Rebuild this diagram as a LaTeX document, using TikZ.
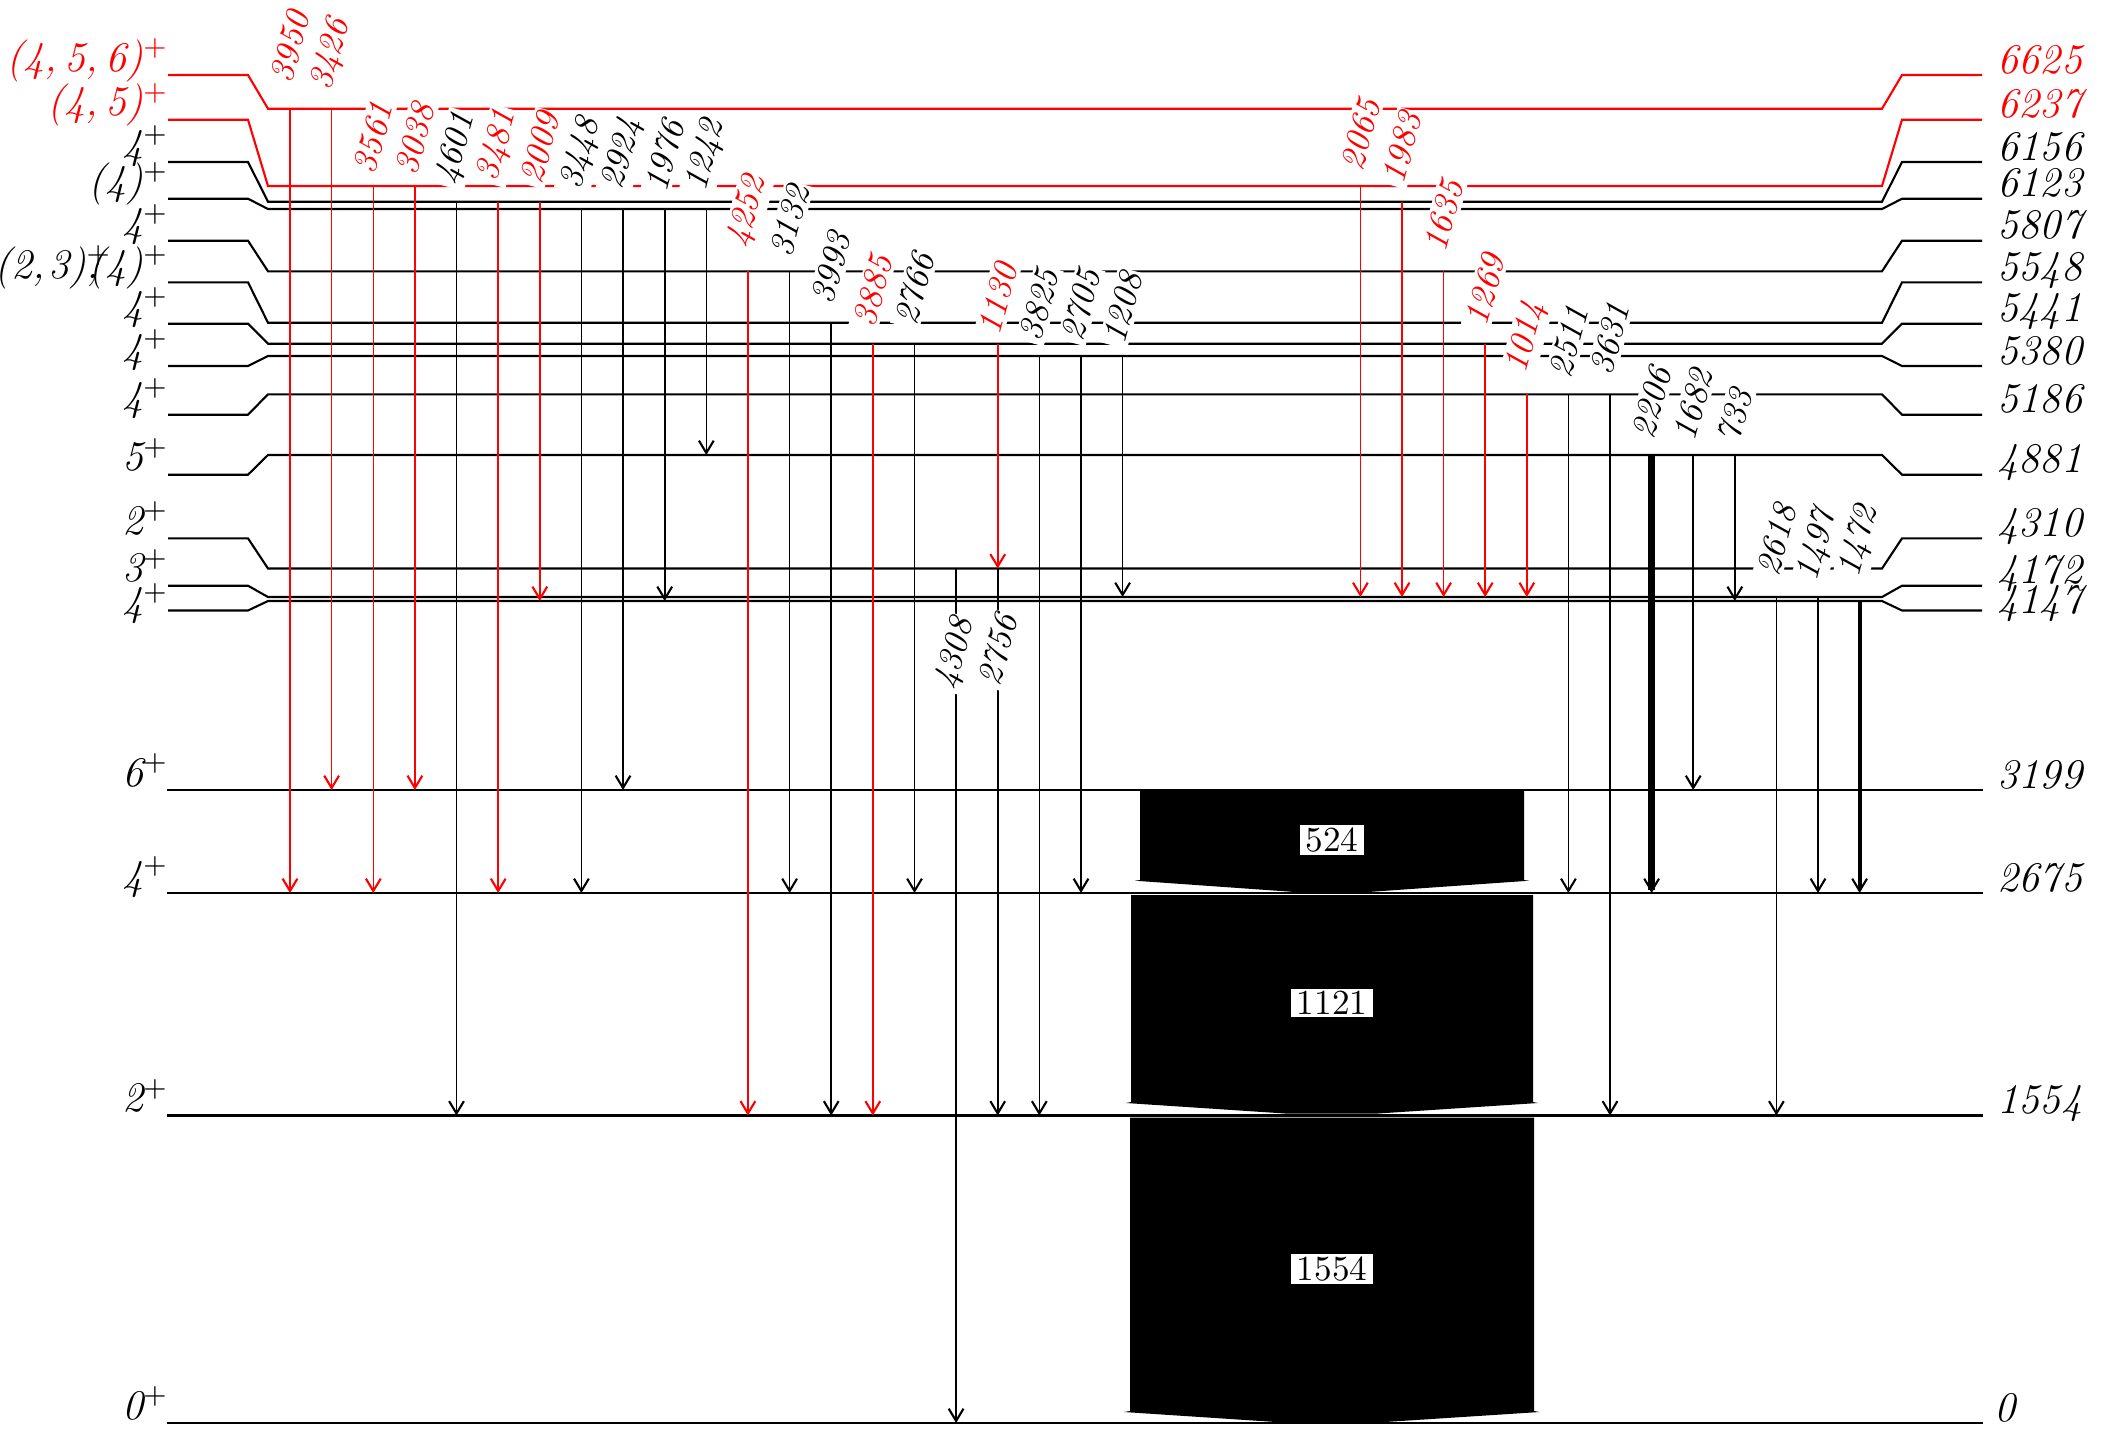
\documentclass[tikz,border=0pt]{standalone}
\usetikzlibrary{arrows.meta}

\begin{document}
\begin{tikzpicture}[x=0.01cm, y=-0.01cm,
  lv/.style={line width=0.6pt},
  gb/.style={-{Straight Barb[length=3.5pt,width=4.2pt,line width=0.6pt]}, line width=0.45pt},
  gr/.style={gb, red},
  gl/.style={fill=white, inner sep=0.8pt, rotate=75, font=\itshape},
  spin/.style={anchor=base east, inner sep=0pt, font=\fontsize{12}{14}\selectfont\itshape},
  en/.style={anchor=base west, inner sep=0pt, font=\fontsize{12}{14}\selectfont\itshape},
  band/.style={fill=black},
  bl/.style={fill=white, inner xsep=1.6pt, inner ysep=0.7pt}
]
\useasboundingbox (0,0) rectangle (2103,1436);

\draw[lv, red] (168,75) -- (248,75) -- (268,108.7) -- (1882,108.7) -- (1902,75) -- (1982,75);
\draw[lv, red] (168,119.7) -- (248,119.7) -- (268,186) -- (1882,186) -- (1902,119.7) -- (1982,119.7);
\draw[lv] (168,162) -- (248,162) -- (268,201.7) -- (1882,201.7) -- (1902,162) -- (1982,162);
\draw[lv] (168,198.7) -- (248,198.7) -- (268,209) -- (1882,209) -- (1902,198.7) -- (1982,198.7);
\draw[lv] (168,240.7) -- (248,240.7) -- (268,271.3) -- (1882,271.3) -- (1902,240.7) -- (1982,240.7);
\draw[lv] (168,282.3) -- (248,282.3) -- (268,322.7) -- (1882,322.7) -- (1902,282.3) -- (1982,282.3);
\draw[lv] (168,323.7) -- (248,323.7) -- (268,343.7) -- (1882,343.7) -- (1902,323.7) -- (1982,323.7);
\draw[lv] (168,366) -- (248,366) -- (268,356) -- (1882,356) -- (1902,366) -- (1982,366);
\draw[lv] (168,414.7) -- (248,414.7) -- (268,394.3) -- (1882,394.3) -- (1902,414.7) -- (1982,414.7);
\draw[lv] (168,474.7) -- (248,474.7) -- (268,455) -- (1882,455) -- (1902,474.7) -- (1982,474.7);
\draw[lv] (168,538.3) -- (248,538.3) -- (268,568.5) -- (1882,568.5) -- (1902,538.3) -- (1982,538.3);
\draw[lv] (168,585.7) -- (248,585.7) -- (268,597) -- (1882,597) -- (1902,585.7) -- (1982,585.7);
\draw[lv] (168,610.5) -- (248,610.5) -- (268,601) -- (1882,601) -- (1902,610.5) -- (1982,610.5);
\draw[lv] (167,790) -- (1983,790);
\draw[lv] (167,893) -- (1983,893);
\draw[lv] (167,1115.5) -- (1983,1115.5);
\draw[lv] (167,1423) -- (1983,1423);

\node[spin, red] (s6625) at (169,71) {(4,\,5,\,6)$^+$};
\node[spin, red] (s6237) at (169,115.7) {(4,\,5)$^+$};
\node[spin] (s6156) at (169,158) {4$^+$};
\node[spin] (s6123) at (169,194.7) {(4)$^+$};
\node[spin] (s5807) at (169,236.7) {4$^+$};
\node[spin] (s5548) at (169,278.3) {(2,\kern1pt3)\rlap{$^+$}\rlap{,}\kern0.5pt(4)$^+$};
\node[spin] (s5441) at (169,319.7) {4$^+$};
\node[spin] (s5380) at (169,362) {4$^+$};
\node[spin] (s5186) at (169,410.7) {4$^+$};
\node[spin] (s4881) at (169,470.7) {5$^+$};
\node[spin] (s4310) at (169,534.3) {2$^+$};
\node[spin] (s4172) at (169,581.7) {3$^+$};
\node[spin] (s4147) at (169,615.5) {4$^+$};
\node[spin] (s3199) at (169,786) {6$^+$};
\node[spin] (s2675) at (169,889) {4$^+$};
\node[spin] (s1554) at (169,1111.5) {2$^+$};
\node[spin] (s0) at (169,1419) {0$^+$};

\node[en, red] (e6625) at (1997,73) {6625};
\node[en, red] (e6237) at (1997,117.7) {6237};
\node[en] (e6156) at (1997,160) {6156};
\node[en] (e6123) at (1997,196.7) {6123};
\node[en] (e5807) at (1997,238.7) {5807};
\node[en] (e5548) at (1997,280.3) {5548};
\node[en] (e5441) at (1997,321.7) {5441};
\node[en] (e5380) at (1997,364) {5380};
\node[en] (e5186) at (1997,412.7) {5186};
\node[en] (e4881) at (1997,472.7) {4881};
\node[en] (e4310) at (1997,536.3) {4310};
\node[en] (e4172) at (1997,583.5) {4172};
\node[en] (e4147) at (1997,613.5) {4147};
\node[en] (e3199) at (1997,788) {3199};
\node[en] (e2675) at (1997,891) {2675};
\node[en] (e1554) at (1997,1113.5) {1554};
\node[en] (e0) at (1994,1421) {0};

\draw[gr] (290,108.7) -- (290,893);
\draw[gr] (331.6,108.7) -- (331.6,790);
\draw[gr] (373.3,186) -- (373.3,893);
\draw[gr] (414.9,186) -- (414.9,790);
\draw[gb] (456.5,201.7) -- (456.5,1115.5);
\draw[gr] (498.2,201.7) -- (498.2,893);
\draw[gr] (539.8,201.7) -- (539.8,601);
\draw[gb] (581.4,209) -- (581.4,893);
\draw[gb] (623,209) -- (623,790);
\draw[gb] (664.7,209) -- (664.7,601);
\draw[gb] (706.3,209) -- (706.3,455);
\draw[gr] (747.9,271.3) -- (747.9,1115.5);
\draw[gb] (789.6,271.3) -- (789.6,893);
\draw[gb] (831.2,322.7) -- (831.2,1115.5);
\draw[gr] (872.8,343.7) -- (872.8,1115.5);
\draw[gb] (914.5,343.7) -- (914.5,893);
\draw[gb] (956.1,568.5) -- (956.1,1423);
\draw[gr] (997.7,343.7) -- (997.7,568.5);
\draw[gb] (997.7,568.5) -- (997.7,1115.5);
\draw[gb] (1039.3,356) -- (1039.3,1115.5);
\draw[gb] (1081,356) -- (1081,893);
\draw[gb] (1122.6,356) -- (1122.6,597);
\draw[gr] (1360.4,186) -- (1360.4,597);
\draw[gr] (1402,201.7) -- (1402,597);
\draw[gr] (1443.6,271.3) -- (1443.6,597);
\draw[gr] (1485.2,343.7) -- (1485.2,597);
\draw[gr] (1526.8,394.3) -- (1526.8,597);
\draw[gb] (1568.4,394.3) -- (1568.4,893);
\draw[gb] (1610,394.3) -- (1610,1115.5);
\draw[gb, line width=2pt] (1651.6,455) -- (1651.6,893);
\draw[gb] (1693.2,455) -- (1693.2,790);
\draw[gb] (1734.8,455) -- (1734.8,601);
\draw[gb] (1776.4,597) -- (1776.4,1115.5);
\draw[gb] (1818,597) -- (1818,893);
\draw[gb, line width=1.15pt] (1859.6,601) -- (1859.6,893);

\fill[band] (1140,790) -- (1524,790) -- (1524,880) -- (1529,880.7) -- (1368,892) -- (1295,892) -- (1135,880.7) -- (1140,880) -- cycle;
\fill[band] (1131,895) -- (1533,895) -- (1533,1102) -- (1538,1103) -- (1378,1113.5) -- (1285,1113.5) -- (1126,1103) -- (1131,1102) -- cycle;
\fill[band] (1130,1117.5) -- (1534,1117.5) -- (1534,1411) -- (1539.5,1412) -- (1385,1422) -- (1276,1422) -- (1124,1412) -- (1130,1411) -- cycle;
\node[bl] (b524) at (1332,840) {524};
\node[bl] (b1121) at (1332,1003) {1121};
\node[bl] (b1554) at (1332,1269) {1554};

\node[gl, text=red] (g3950) at (290,47) {3950};
\node[gl, text=red] (g3426) at (331.6,55) {3426};
\node[gl, text=red] (g3561) at (373.3,138) {3561};
\node[gl, text=red] (g3038) at (414.9,139) {3038};
\node[gl] (g4601) at (456.5,149) {4601};
\node[gl, text=red] (g3481) at (498.2,146) {3481};
\node[gl, text=red] (g2009) at (539.8,148) {2009};
\node[gl] (g3448) at (581.4,154) {3448};
\node[gl] (g2924) at (623,154) {2924};
\node[gl] (g1976) at (664.7,156) {1976};
\node[gl] (g1242) at (706.3,156) {1242};
\node[gl, text=red] (g4252) at (747.9,212) {4252};
\node[gl] (g3132) at (789.6,221) {3132};
\node[gl] (g3993) at (831.2,268) {3993};
\node[gl, text=red] (g3885) at (872.8,291) {3885};
\node[gl] (g2766) at (914.5,289) {2766};
\node[gl] (g4308) at (956.1,654) {4308};
\node[gl, text=red] (g1130) at (997.7,299) {1130};
\node[gl] (g2756) at (997.7,650) {2756};
\node[gl] (g3825) at (1039.3,305) {3825};
\node[gl] (g2705) at (1081,305) {2705};
\node[gl] (g1208) at (1122.6,308) {1208};
\node[gl, text=red] (g2065) at (1360.4,134.5) {2065};
\node[gl, text=red] (g1983) at (1402,148) {1983};
\node[gl, text=red] (g1635) at (1443.6,216) {1635};
\node[gl, text=red] (g1269) at (1485.2,290) {1269};
\node[gl, text=red] (g1014) at (1526.8,337.5) {1014};
\node[gl] (g2511) at (1568.4,341.7) {2511};
\node[gl] (g3631) at (1610,339) {3631};
\node[gl] (g2206) at (1651.6,402.5) {2206};
\node[gl] (g1682) at (1693.2,405) {1682};
\node[gl] (g733) at (1734.8,416) {733};
\node[gl] (g2618) at (1776.4,540) {2618};
\node[gl] (g1497) at (1818,545.5) {1497};
\node[gl] (g1472) at (1859.6,541.7) {1472};
\end{tikzpicture}
\end{document}
